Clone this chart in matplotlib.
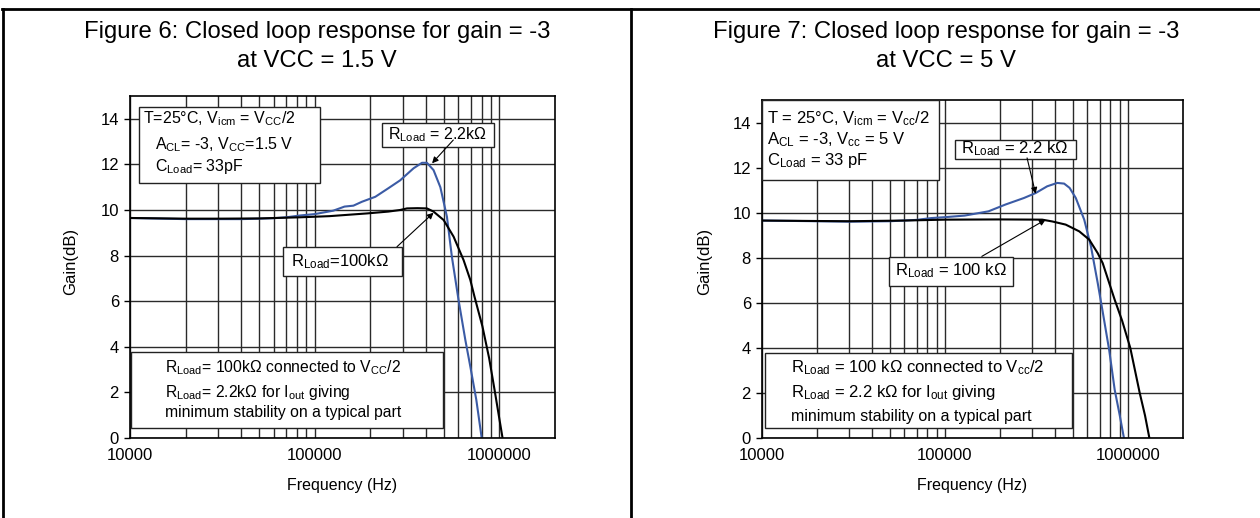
import numpy as np
import matplotlib.pyplot as plt
from matplotlib.patches import Rectangle
from matplotlib.lines import Line2D
from matplotlib.ticker import FixedLocator, NullFormatter

plt.rcParams['font.family'] = ['Liberation Sans', 'DejaVu Sans']
plt.rcParams['mathtext.default'] = 'regular'

# %% data (Hz, dB)
# Figure 6, VCC = 1.5 V
f6_2k2 = [1e4, 1.5e4, 2e4, 3e4, 4e4, 5e4, 6e4, 7e4, 8.35e4, 1e5, 1.26e5, 1.45e5,
          1.62e5, 1.8e5, 2.13e5, 2.5e5, 2.9e5, 3.43e5, 3.81e5, 4.05e5, 4.4e5,
          4.79e5, 5.2e5, 5.53e5, 6.01e5, 6.54e5, 6.96e5, 7.5e5, 8.02e5]
g6_2k2 = [9.65, 9.62, 9.6, 9.6, 9.6, 9.62, 9.64, 9.68, 9.76, 9.82, 9.97, 10.15,
          10.19, 10.36, 10.58, 10.95, 11.3, 11.83, 12.07, 12.07, 11.75,
          11.0, 9.7, 7.95, 6.05, 4.3, 3.13, 1.67, 0.0]
f6_100k = [1e4, 2e4, 3e4, 5e4, 8.35e4, 1.2e5, 1.92e5, 2.5e5, 2.9e5, 3.16e5, 3.6e5,
           4.05e5, 4.4e5, 4.99e5, 5.65e5, 6.4e5, 6.96e5, 7.33e5, 8.09e5, 8.8e5,
           9.42e5, 1.04e6]
g6_100k = [9.65, 9.62, 9.62, 9.63, 9.68, 9.73, 9.85, 9.93, 10.0, 10.07, 10.08,
           10.07, 9.93, 9.56, 8.83, 7.8, 6.93, 6.2, 4.9, 3.5, 2.1, 0.0]

# Figure 7, VCC = 5 V
f7_2k2 = [1e4, 2e4, 3e4, 5e4, 7e4, 8.4e4, 1e5, 1.28e5, 1.73e5, 2.14e5, 2.7e5,
          3.13e5, 3.62e5, 4.11e5, 4.48e5, 4.8e5, 5.19e5, 5.77e5, 6.28e5, 6.84e5,
          7.28e5, 7.9e5, 8.47e5, 9.0e5, 9.51e5]
g7_2k2 = [9.65, 9.62, 9.6, 9.62, 9.68, 9.76, 9.8, 9.87, 10.06, 10.36, 10.65,
          10.87, 11.17, 11.32, 11.29, 11.1, 10.65, 9.69, 8.5, 6.87,
          5.6, 3.9, 2.13, 1.05, 0.0]
f7_100k = [1e4, 2e4, 3e4, 6e4, 1e5, 2e5, 3.4e5, 3.86e5, 4.57e5, 5.42e5, 6.15e5,
           6.84e5, 7.28e5, 8.47e5, 9.3e5, 1.03e6, 1.16e6, 1.24e6, 1.31e6]
g7_100k = [9.65, 9.63, 9.62, 9.65, 9.69, 9.7, 9.69, 9.61, 9.47, 9.17, 8.8,
           8.2, 7.76, 6.13, 5.2, 4.0, 2.0, 1.0, 0.0]

xtick_vals = [1e4, 1e5, 1e6]
xtick_labels = ['10000', '100000', '1000000']
ytick_vals = [0, 2, 4, 6, 8, 10, 12, 14]

BLUE = '#3b5ba5'
W, H = 1260, 518

fig = plt.figure(figsize=(W / 100, H / 100), dpi=100)

# outer frame of the page
fig.add_artist(Line2D([2 / W, 1], [1 - 9 / H] * 2, color='black', lw=2))
fig.add_artist(Line2D([3 / W] * 2, [0, 1 - 9 / H], color='black', lw=2))
fig.add_artist(Line2D([631 / W] * 2, [0, 1 - 9 / H], color='black', lw=2))


def make_axes(box, ylab_x):
    x0, x1, y0, y1 = box
    ax = fig.add_axes([x0 / W, (H - y1) / H, (x1 - x0) / W, (y1 - y0) / H])
    ax.set_xscale('log')
    ax.set_xlim(1e4, 2e6)
    ax.set_ylim(0, 15)
    ax.set_xticks(xtick_vals)
    ax.set_xticklabels(xtick_labels)
    ax.xaxis.set_minor_locator(FixedLocator([k * 10 ** e for e in (4, 5) for k in range(2, 10)]))
    ax.xaxis.set_minor_formatter(NullFormatter())
    ax.set_yticks(ytick_vals)
    ax.set_axisbelow(True)
    ax.grid(True, which='both', axis='x', color='#2a2a2a', lw=1)
    ax.grid(True, which='major', axis='y', color='#2a2a2a', lw=1)
    ax.tick_params(axis='y', direction='out', length=4, width=1, labelsize=12, pad=4)
    ax.tick_params(axis='x', which='both', length=0, labelsize=12, pad=7)
    for s in ax.spines.values():
        s.set_linewidth(1.2)
    ax.set_xlabel('Frequency (Hz)', fontsize=11.5)
    ax.xaxis.set_label_coords(0.5, (y1 - 478) / (y1 - y0))
    ax.set_ylabel('Gain(dB)', fontsize=12)
    ax.yaxis.set_label_coords((ylab_x - x0) / (x1 - x0), (y1 - 261) / (y1 - y0))
    return ax


def frac(box, x, y):
    x0, x1, y0, y1 = box
    return (x - x0) / (x1 - x0), (y1 - y) / (y1 - y0)


def box_at(ax, box, l, t, r, b):
    fx0, fy1 = frac(box, l, t)
    fx1, fy0 = frac(box, r, b)
    ax.add_patch(Rectangle((fx0, fy0), fx1 - fx0, fy1 - fy0, transform=ax.transAxes,
                           fc='white', ec='#222222', lw=1, zorder=3, clip_on=False))


def text_at(ax, box, x, y, s, size=11.5):
    fx, fy = frac(box, x, y)
    ax.text(fx, fy, s, transform=ax.transAxes, ha='left', va='center',
            fontsize=size, zorder=4)


def arrow(ax, tip, tail):
    ax.annotate('', xy=tip, xytext=tail,
                arrowprops=dict(arrowstyle='-|>', color='black', lw=0.8,
                                mutation_scale=9, shrinkA=0, shrinkB=0), zorder=5)


# %% Figure 6
LB = (130, 555, 96, 438)
ax = make_axes(LB, 78)
ax.plot(f6_2k2, g6_2k2, color=BLUE, lw=1.5, zorder=2)
ax.plot(f6_100k, g6_100k, color='black', lw=1.5, zorder=2)

box_at(ax, LB, 139, 107, 320, 183)
text_at(ax, LB, 143, 119, r'T=25°C, $V_{icm}$ = $V_{CC}$/2')
text_at(ax, LB, 155, 145, r'$A_{CL}$= -3, $V_{CC}$=1.5 V')
text_at(ax, LB, 155, 166, r'$C_{Load}$= 33pF')

box_at(ax, LB, 382, 123, 494, 147)
text_at(ax, LB, 388, 135, r'$R_{Load}$ = 2.2kΩ')
arrow(ax, (4.32e5, 12.05), (5.63e5, 13.07))

box_at(ax, LB, 283, 247, 402, 276)
text_at(ax, LB, 291, 262, r'$R_{Load}$=100kΩ', 12)
arrow(ax, (4.4e5, 9.88), (2.79e5, 8.39))

box_at(ax, LB, 131, 352, 443, 428)
text_at(ax, LB, 165, 368, r'$R_{Load}$= 100kΩ connected to $V_{CC}$/2', 11.3)
text_at(ax, LB, 165, 392, r'$R_{Load}$= 2.2kΩ for $I_{out}$ giving', 11.3)
text_at(ax, LB, 165, 412, 'minimum stability on a typical part', 11.3)

fig.text(317 / W, 1 - 32 / H, 'Figure 6: Closed loop response for gain = -3',
         ha='center', va='center', fontsize=17.2)
fig.text(317 / W, 1 - 61 / H, 'at VCC = 1.5 V', ha='center', va='center', fontsize=17.2)

# %% Figure 7
RB = (762, 1183, 100, 438)
ax = make_axes(RB, 712)
ax.plot(f7_2k2, g7_2k2, color=BLUE, lw=1.5, zorder=2)
ax.plot(f7_100k, g7_100k, color='black', lw=1.5, zorder=2)

box_at(ax, RB, 762, 100, 939, 180)
text_at(ax, RB, 767, 119, r'T = 25°C, $V_{icm}$ = $V_{cc}$/2', 12)
text_at(ax, RB, 767, 140, r'$A_{CL}$ = -3, $V_{cc}$ = 5 V', 12)
text_at(ax, RB, 767, 161, r'$C_{Load}$ = 33 pF', 12)

box_at(ax, RB, 955, 140, 1076, 159)
text_at(ax, RB, 961, 149, r'$R_{Load}$ = 2.2 kΩ', 12)
arrow(ax, (3.13e5, 10.84), (2.81e5, 12.43))

box_at(ax, RB, 889, 257, 1013, 286)
text_at(ax, RB, 895, 271, r'$R_{Load}$ = 100 kΩ', 12)
arrow(ax, (3.55e5, 9.69), (1.59e5, 8.06))

box_at(ax, RB, 765, 353, 1072, 428)
text_at(ax, RB, 791, 368, r'$R_{Load}$ = 100 kΩ connected to $V_{cc}$/2', 12)
text_at(ax, RB, 791, 393, r'$R_{Load}$ = 2.2 kΩ for $I_{out}$ giving', 12)
text_at(ax, RB, 791, 416, 'minimum stability on a typical part')

fig.text(946 / W, 1 - 32 / H, 'Figure 7: Closed loop response for gain = -3',
         ha='center', va='center', fontsize=17.2)
fig.text(946 / W, 1 - 61 / H, 'at VCC = 5 V', ha='center', va='center', fontsize=17.2)

fig.savefig('out.png', dpi=100)
